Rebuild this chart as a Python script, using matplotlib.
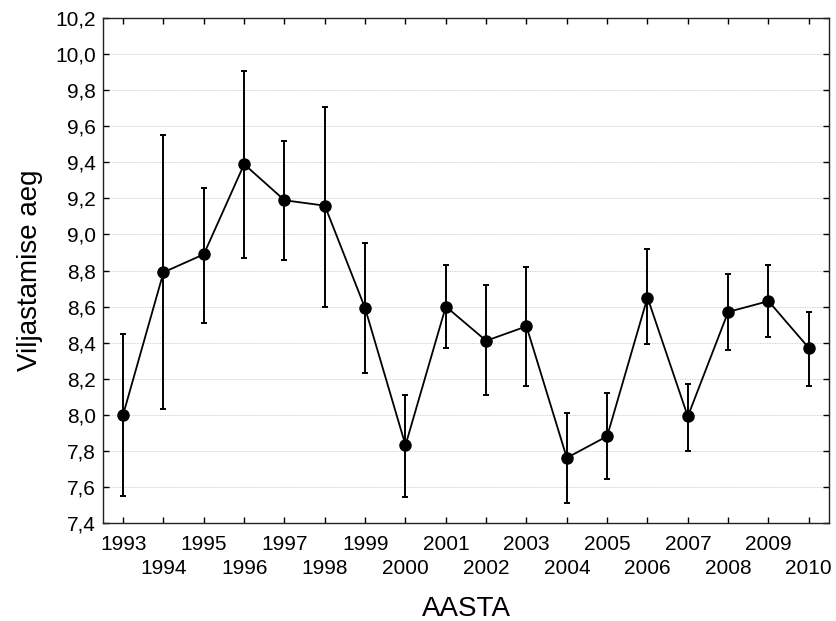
import numpy as np
import matplotlib
matplotlib.use("Agg")
import matplotlib.pyplot as plt

plt.rcParams['font.family'] = ['Liberation Sans', 'DejaVu Sans']

# andmed (loetud jooniselt)
years = np.arange(1993, 2011)
mean = np.array([8.00, 8.79, 8.89, 9.39, 9.19, 9.16, 8.59, 7.83, 8.60,
                 8.41, 8.49, 7.76, 7.88, 8.65, 7.99, 8.57, 8.63, 8.37])
upper = np.array([8.45, 9.55, 9.26, 9.91, 9.52, 9.71, 8.95, 8.11, 8.83,
                  8.72, 8.82, 8.01, 8.12, 8.92, 8.17, 8.78, 8.83, 8.57])
lower = np.array([7.55, 8.03, 8.51, 8.87, 8.86, 8.60, 8.23, 7.54, 8.37,
                  8.11, 8.16, 7.51, 7.64, 8.39, 7.80, 8.36, 8.43, 8.16])

yticks = np.arange(7.4, 10.21, 0.2)
ytick_labels = [f"{v:.1f}".replace('.', ',') for v in yticks]

fig = plt.figure(figsize=(8.36, 6.21), dpi=100)
ax = fig.add_axes([0.1232, 0.1583, 0.8684, 0.8122])

ax.errorbar(years, mean, yerr=[mean - lower, upper - mean],
            fmt='-o', color='black', ecolor='black', elinewidth=1.4,
            capsize=2.5, capthick=1.4, linewidth=1.3, markersize=8)

ax.set_xlim(1992.5, 2010.5)
ax.set_ylim(7.4, 10.2)
ax.set_yticks(yticks)
ax.set_yticklabels(ytick_labels)

# aastad kahes reas: paaritud üleval, paaris all
ax.set_xticks(years[::2])
ax.set_xticklabels([str(y) for y in years[::2]])
ax.set_xticks(years[1::2], minor=True)
ax.set_xticklabels([str(y) for y in years[1::2]], minor=True)

ax.yaxis.grid(True, linestyle=(0, (1, 1)), color='#c4c4c4', linewidth=0.6)
ax.set_axisbelow(True)
ax.tick_params(which='both', direction='in', length=4, width=1, top=True,
               right=True, labelsize=15)
ax.tick_params(axis='x', which='major', pad=9)
ax.tick_params(axis='x', which='minor', pad=26)
ax.tick_params(axis='y', pad=5)
for s in ax.spines.values():
    s.set_linewidth(1.0)
    s.set_color('#222222')

ax.set_xlabel('AASTA', fontsize=20, labelpad=13)
ax.set_ylabel('Viljastamise aeg', fontsize=20, labelpad=9)

fig.savefig('out.png', dpi=100)
